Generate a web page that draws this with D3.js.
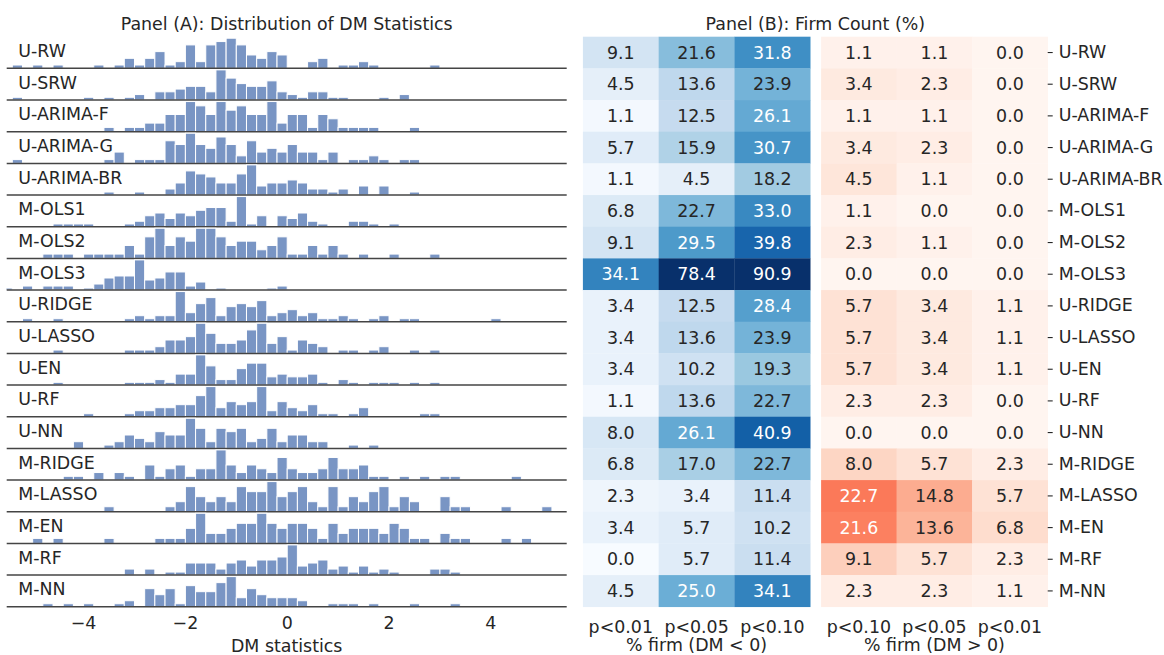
<!DOCTYPE html>
<html>
<head>
<meta charset="utf-8">
<script src="https://cdn.jsdelivr.net/npm/d3@7"></script>
<style>
  body { margin: 0; background: #fff; }
  svg text { font-family: "DejaVu Sans", sans-serif; }
</style>
</head>
<body>
<svg id="chart" width="1164" height="655"></svg>
<script>
// models (rows, top to bottom)
const models = ["U-RW", "U-SRW", "U-ARIMA-F", "U-ARIMA-G", "U-ARIMA-BR", "M-OLS1", "M-OLS2", "M-OLS3",
  "U-RIDGE", "U-LASSO", "U-EN", "U-RF", "U-NN", "M-RIDGE", "M-LASSO", "M-EN", "M-RF", "M-NN"];

// histogram bins: bin k covers [binStart + k*binWidth, binStart + (k+1)*binWidth)
const binStart = -5.39;
const binWidth = 0.2;
// [bin index, firm count] per model
const histCounts = [
  [[0,1],[2,1],[4,1],[8,1],[10,1],[11,3],[12,1],[13,3],[14,5],[15,1],[16,2],[17,7],[18,2],[19,7],[20,8],[21,9],[22,7],[23,4],[24,3],[25,5],[26,4],[29,2],[30,3],[32,1],[33,1],[34,2],[35,1],[41,1]],
  [[0,1],[7,1],[9,1],[11,1],[12,2],[14,3],[15,3],[16,4],[17,5],[18,5],[19,3],[20,11],[21,8],[22,6],[23,5],[24,5],[25,7],[26,3],[27,2],[28,1],[29,3],[30,3],[31,1],[32,1],[36,1],[38,2]],
  [[9,1],[11,1],[12,1],[13,2],[14,2],[15,4],[16,4],[17,7],[18,6],[19,4],[20,7],[21,5],[22,6],[23,4],[24,4],[25,7],[26,2],[27,4],[28,4],[29,1],[30,4],[31,3],[32,1],[33,1],[34,1],[35,1],[39,1]],
  [[0,1],[9,1],[10,3],[12,1],[13,1],[14,1],[15,6],[16,5],[17,8],[18,5],[19,4],[20,7],[21,5],[22,2],[23,6],[24,3],[25,4],[26,3],[27,5],[28,3],[29,3],[30,1],[31,3],[33,1],[34,1],[35,2],[36,1],[38,1],[39,1]],
  [[9,1],[12,1],[15,2],[16,4],[17,8],[18,7],[19,6],[20,4],[21,4],[22,7],[23,10],[24,3],[25,4],[26,4],[27,5],[28,4],[29,2],[30,2],[31,1],[32,2],[34,3],[36,3],[39,1]],
  [[4,1],[5,1],[6,1],[7,1],[11,1],[12,2],[13,4],[14,5],[15,3],[16,5],[17,4],[18,6],[19,7],[20,7],[21,2],[22,11],[23,1],[24,4],[26,4],[27,3],[28,5],[29,2],[30,1],[33,2],[34,2],[35,1],[37,1]],
  [[3,1],[4,1],[5,1],[7,1],[8,1],[9,1],[10,1],[11,3],[12,1],[13,5],[14,7],[15,3],[16,5],[17,4],[18,7],[19,7],[20,5],[21,3],[22,4],[23,4],[24,2],[25,3],[26,5],[27,1],[28,1],[29,3],[30,1],[31,3],[32,1],[34,1],[37,1],[41,1]],
  [[-1,1],[1,2],[3,2],[4,2],[5,2],[7,1],[8,3],[9,6],[10,7],[11,7],[12,15],[13,5],[14,6],[15,9],[16,9],[17,2],[18,4],[20,1],[25,1],[26,2]],
  [[1,1],[4,1],[11,1],[12,2],[13,1],[14,2],[15,2],[16,10],[17,3],[18,6],[19,8],[20,2],[21,5],[22,6],[23,5],[24,7],[25,2],[26,3],[27,4],[28,2],[29,3],[30,1],[31,1],[32,2],[33,1],[35,1],[36,2],[38,1],[39,1],[47,1]],
  [[4,1],[11,1],[12,1],[13,1],[14,2],[15,4],[16,4],[17,5],[18,9],[19,6],[20,3],[21,3],[22,4],[23,7],[24,9],[25,3],[26,5],[27,1],[28,4],[29,3],[30,2],[32,1],[33,1],[35,1],[36,2],[39,1],[41,1]],
  [[4,1],[11,1],[12,1],[13,1],[14,2],[15,1],[16,4],[17,4],[18,11],[19,7],[20,2],[21,2],[22,6],[23,8],[24,8],[25,3],[26,4],[27,3],[28,3],[29,4],[30,1],[32,2],[33,1],[35,1],[36,1],[37,1],[39,1],[41,1]],
  [[7,1],[11,1],[12,2],[13,2],[14,3],[15,3],[16,4],[17,4],[18,7],[19,10],[20,3],[21,5],[22,4],[23,5],[24,10],[25,2],[26,5],[27,3],[28,2],[29,4],[30,1],[31,1],[33,1],[34,3],[40,1],[41,1]],
  [[6,2],[9,1],[10,2],[11,4],[12,3],[13,2],[14,5],[15,4],[16,4],[17,9],[18,6],[19,2],[20,6],[21,5],[22,6],[23,2],[24,3],[25,6],[26,2],[27,4],[28,4],[29,2],[30,2],[33,1],[35,1]],
  [[5,1],[6,1],[8,2],[10,2],[11,1],[13,4],[14,1],[15,3],[16,4],[17,1],[18,3],[19,3],[20,8],[21,4],[22,2],[23,4],[24,3],[25,2],[26,6],[27,3],[28,2],[29,2],[30,3],[31,6],[32,3],[33,3],[34,4],[35,1],[36,1],[38,1],[40,1],[42,1],[43,1],[49,1]],
  [[9,1],[15,1],[16,2],[17,5],[18,3],[19,2],[20,3],[21,2],[22,5],[23,4],[24,4],[25,6],[26,3],[27,4],[28,5],[29,2],[30,1],[31,5],[32,1],[33,3],[34,2],[35,4],[36,5],[37,1],[38,3],[39,2],[42,3],[43,1],[44,1],[48,1],[52,1]],
  [[2,1],[4,1],[9,1],[14,1],[15,1],[16,1],[17,3],[18,6],[19,2],[20,2],[21,3],[22,4],[23,4],[24,6],[25,4],[26,3],[27,4],[28,4],[29,3],[30,1],[31,4],[32,2],[33,3],[34,3],[35,3],[36,2],[37,4],[38,3],[39,1],[40,1],[42,2],[43,1],[44,1],[48,1],[50,1]],
  [[11,2],[13,2],[15,1],[16,1],[17,4],[18,4],[19,4],[20,2],[21,4],[22,5],[23,3],[24,5],[25,5],[26,6],[27,10],[28,3],[29,4],[30,5],[31,2],[32,3],[33,1],[34,3],[35,1],[36,2],[37,1],[41,2],[42,2],[43,1]],
  [[3,1],[5,1],[7,1],[10,1],[11,2],[13,6],[14,4],[15,6],[16,1],[17,7],[18,5],[19,5],[20,8],[21,10],[22,3],[23,6],[24,4],[25,3],[26,3],[27,3],[28,2],[31,1],[32,1],[33,1],[35,1],[39,1],[43,1]]
];

// Panel B: % of firms, DM < 0
const negP01 = [9.1, 4.5, 1.1, 5.7, 1.1, 6.8, 9.1, 34.1, 3.4, 3.4, 3.4, 1.1, 8.0, 6.8, 2.3, 3.4, 0.0, 4.5];
const negP05 = [21.6, 13.6, 12.5, 15.9, 4.5, 22.7, 29.5, 78.4, 12.5, 13.6, 10.2, 13.6, 26.1, 17.0, 3.4, 5.7, 5.7, 25.0];
const negP10 = [31.8, 23.9, 26.1, 30.7, 18.2, 33.0, 39.8, 90.9, 28.4, 23.9, 19.3, 22.7, 40.9, 22.7, 11.4, 10.2, 11.4, 34.1];
// % of firms, DM > 0
const posP10 = [1.1, 3.4, 1.1, 3.4, 4.5, 1.1, 2.3, 0.0, 5.7, 5.7, 5.7, 2.3, 0.0, 8.0, 22.7, 21.6, 9.1, 2.3];
const posP05 = [1.1, 2.3, 1.1, 2.3, 1.1, 0.0, 1.1, 0.0, 3.4, 3.4, 3.4, 2.3, 0.0, 5.7, 14.8, 13.6, 5.7, 2.3];
const posP01 = [0.0, 0.0, 0.0, 0.0, 0.0, 0.0, 0.0, 0.0, 1.1, 1.1, 1.1, 0.0, 0.0, 2.3, 5.7, 6.8, 2.3, 1.1];

const negLabels = ["p<0.01", "p<0.05", "p<0.10"];
const posLabels = ["p<0.10", "p<0.05", "p<0.01"];
const xTicks = [-4, -2, 0, 2, 4];

const textColor = "#262626";
const fontSize = "17.4px";
const svg = d3.select("#chart");

const rowTop = 36.7, rowH = 31.67;
const rowY = d3.scaleBand().domain(models).range([rowTop, rowTop + rowH * models.length]);
const bottomY = rowTop + rowH * models.length;

// ---------- Panel A: ridge of histograms ----------
const x = d3.scaleLinear().domain([-5.5, 5.5]).range([6.7, 566.7]);

svg.append("clipPath").attr("id", "histClip")
  .append("rect")
  .attr("x", x.range()[0]).attr("y", 0)
  .attr("width", x.range()[1] - x.range()[0]).attr("height", 655);

const barW = x(binWidth) - x(0);

models.forEach((m, i) => {
  const bins = histCounts[i];
  const maxC = d3.max(bins, d => d[1]);
  const y = d3.scaleLinear().domain([0, maxC * 1.05]).range([rowY(m) + rowH, rowY(m)]);
  const g = svg.append("g").attr("clip-path", "url(#histClip)");
  g.selectAll("rect").data(bins).join("rect")
    .attr("x", d => x(binStart + d[0] * binWidth))
    .attr("width", barW)
    .attr("y", d => y(d[1]))
    .attr("height", d => y(0) - y(d[1]))
    .attr("fill", "#4c72b0")
    .attr("fill-opacity", 0.75)
    .attr("stroke", "#fff")
    .attr("stroke-width", 1);

  svg.append("line")
    .attr("x1", x.range()[0]).attr("x2", x.range()[1])
    .attr("y1", y(0)).attr("y2", y(0))
    .attr("stroke", "#444").attr("stroke-width", 1.5);

  svg.append("text")
    .attr("x", 18.3)
    .attr("y", y(0) - 11.3)
    .style("font-size", fontSize)
    .attr("fill", textColor)
    .text(m);
});

const xAxis = svg.append("g")
  .attr("transform", `translate(0, ${bottomY})`)
  .call(d3.axisBottom(x).tickValues(xTicks).tickSize(0).tickPadding(9.5));
xAxis.select(".domain").remove();
xAxis.selectAll("text").attr("fill", textColor).style("font-size", fontSize);

svg.append("text")
  .attr("x", 286.7).attr("y", 652)
  .style("text-anchor", "middle").style("font-size", fontSize)
  .attr("fill", textColor)
  .text("DM statistics");

svg.append("text")
  .attr("x", 286.7).attr("y", 30)
  .style("text-anchor", "middle").style("font-size", fontSize)
  .attr("fill", textColor)
  .text("Panel (A): Distribution of DM Statistics");

// ---------- Panel B: heatmaps ----------
const vmax = 50;
const stops = d3.range(9).map(i => i * vmax / 8);
const blueColor = d3.scaleLinear().domain(stops).range(d3.schemeBlues[9]).clamp(true);
const redColor = d3.scaleLinear().domain(stops).range(d3.schemeReds[9]).clamp(true);

function luminance(c) {
  const rgb = d3.rgb(c);
  const lin = v => { v = v / 255; return v <= 0.03928 ? v / 12.92 : Math.pow((v + 0.055) / 1.055, 2.4); };
  return 0.2126 * lin(rgb.r) + 0.7152 * lin(rgb.g) + 0.0722 * lin(rgb.b);
}

function heatmap(cols, labels, xRange, color, title) {
  const xb = d3.scaleBand().domain(labels).range(xRange);
  const cells = [];
  models.forEach((m, i) => cols.forEach((col, j) => cells.push({ m, lab: labels[j], v: col[i] })));
  const g = svg.append("g");
  g.selectAll("rect").data(cells).join("rect")
    .attr("x", d => xb(d.lab))
    .attr("y", d => rowY(d.m))
    .attr("width", xb.bandwidth() + 0.3)
    .attr("height", rowY.bandwidth() + 0.3)
    .attr("fill", d => color(d.v));
  g.selectAll("text").data(cells).join("text")
    .attr("x", d => xb(d.lab) + xb.bandwidth() / 2)
    .attr("y", d => rowY(d.m) + rowY.bandwidth() / 2)
    .attr("dy", "0.35em")
    .style("text-anchor", "middle")
    .style("font-size", fontSize)
    .attr("fill", d => luminance(color(d.v)) > 0.408 ? textColor : "#fff")
    .text(d => d.v.toFixed(1));

  const ax = svg.append("g")
    .attr("transform", `translate(0, ${bottomY})`)
    .call(d3.axisBottom(xb).tickSize(0).tickPadding(14));
  ax.select(".domain").remove();
  ax.selectAll("text").attr("fill", textColor).style("font-size", fontSize);

  svg.append("text")
    .attr("x", (xRange[0] + xRange[1]) / 2).attr("y", 651)
    .style("text-anchor", "middle").style("font-size", fontSize)
    .attr("fill", textColor)
    .text(title);
}

const blueRange = [582.9, 810.2];
const redRange = [821.1, 1047.7];
heatmap([negP01, negP05, negP10], negLabels, blueRange, blueColor, "% firm (DM < 0)");
heatmap([posP10, posP05, posP01], posLabels, redRange, redColor, "% firm (DM > 0)");

const yAxis = svg.append("g")
  .attr("transform", `translate(${redRange[1]}, 0)`)
  .call(d3.axisRight(rowY).tickSize(5).tickPadding(6));
yAxis.select(".domain").remove();
yAxis.selectAll("line").attr("stroke", textColor).attr("stroke-width", 1.1);
yAxis.selectAll("text").attr("fill", textColor).style("font-size", fontSize);

svg.append("text")
  .attr("x", (blueRange[0] + redRange[1]) / 2).attr("y", 29.5)
  .style("text-anchor", "middle").style("font-size", fontSize)
  .attr("fill", textColor)
  .text("Panel (B): Firm Count (%)");
</script>
</body>
</html>
